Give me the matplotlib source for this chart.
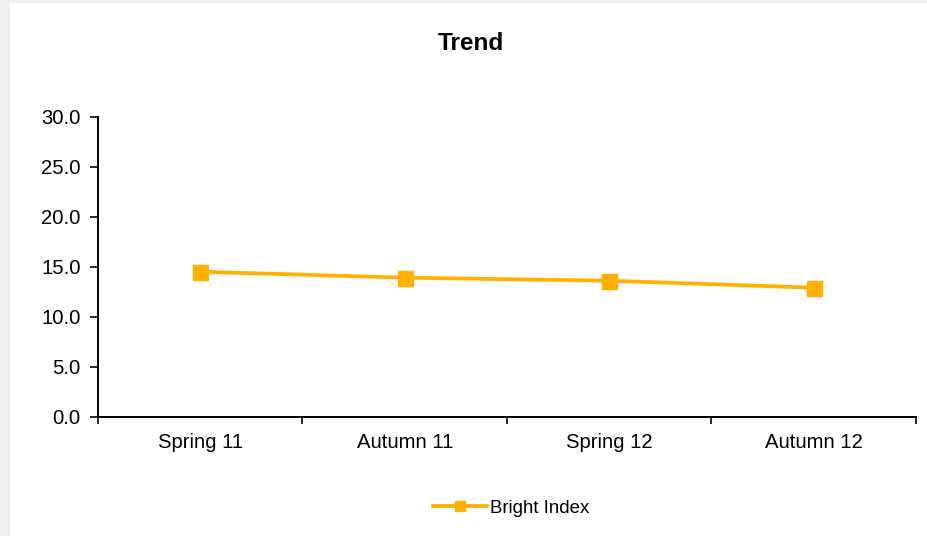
import matplotlib
matplotlib.use("Agg")
import matplotlib.pyplot as plt
from matplotlib.patches import Rectangle
from matplotlib.lines import Line2D

plt.rcParams['font.family'] = ['Liberation Sans', 'DejaVu Sans']

categories = ["Spring 11", "Autumn 11", "Spring 12", "Autumn 12"]
bright_index = [14.5, 13.9, 13.6, 12.9]
y_ticks = [0.0, 5.0, 10.0, 15.0, 20.0, 25.0, 30.0]

W, H = 928, 536
fig = plt.figure(figsize=(W / 100, H / 100), dpi=100, facecolor="#eeeeee")
fig.patches.append(Rectangle((10 / W, 0), 1 - 10 / W, 1 - 3 / H, transform=fig.transFigure,
                             facecolor="white", edgecolor="none", zorder=-1))

ax = fig.add_axes([98 / W, 1 - 416.7 / H, (916 - 98) / W, 300 / H])
ax.set_facecolor("none")

color = "#FFB000"
x = list(range(len(categories)))
ax.plot(x, bright_index, color=color, lw=2.7, marker="s", markersize=10.8,
        markeredgecolor=color, markerfacecolor=color, solid_capstyle="butt", clip_on=False)

ax.set_xlim(-0.5, len(categories) - 0.5)
ax.set_ylim(0, 30)
ax.set_yticks(y_ticks)
ax.set_yticklabels([f"{v:.1f}" for v in y_ticks])
ax.set_xticks(x)
ax.set_xticklabels(categories)
ax.set_xticks([i - 0.5 for i in range(len(categories) + 1)], minor=True)

ax.tick_params(axis="x", which="major", length=0, pad=12, labelsize=14.6, colors="black")
ax.tick_params(axis="x", which="minor", length=5, width=1.2, direction="out", color="black")
ax.tick_params(axis="y", length=6, width=1.2, direction="out", pad=6.5, labelsize=14.6)

for side in ("top", "right"):
    ax.spines[side].set_visible(False)
for side in ("left", "bottom"):
    ax.spines[side].set_linewidth(1.4)
    ax.spines[side].set_color("black")

fig.text(471 / W, 1 - 44 / H, "Trend", ha="center", va="center",
         fontsize=17.6, fontweight="bold")

handle = Line2D([], [], color=color, lw=2.7, marker="s", markersize=6.8,
                markeredgecolor=color, markerfacecolor=color)
fig.legend([handle], ["Bright Index"], loc="center", bbox_to_anchor=(511 / W, 1 - 508 / H),
           frameon=False, fontsize=13.4, handlelength=2.9, handletextpad=0.15)

fig.savefig("out.png", dpi=100, facecolor=fig.get_facecolor())
